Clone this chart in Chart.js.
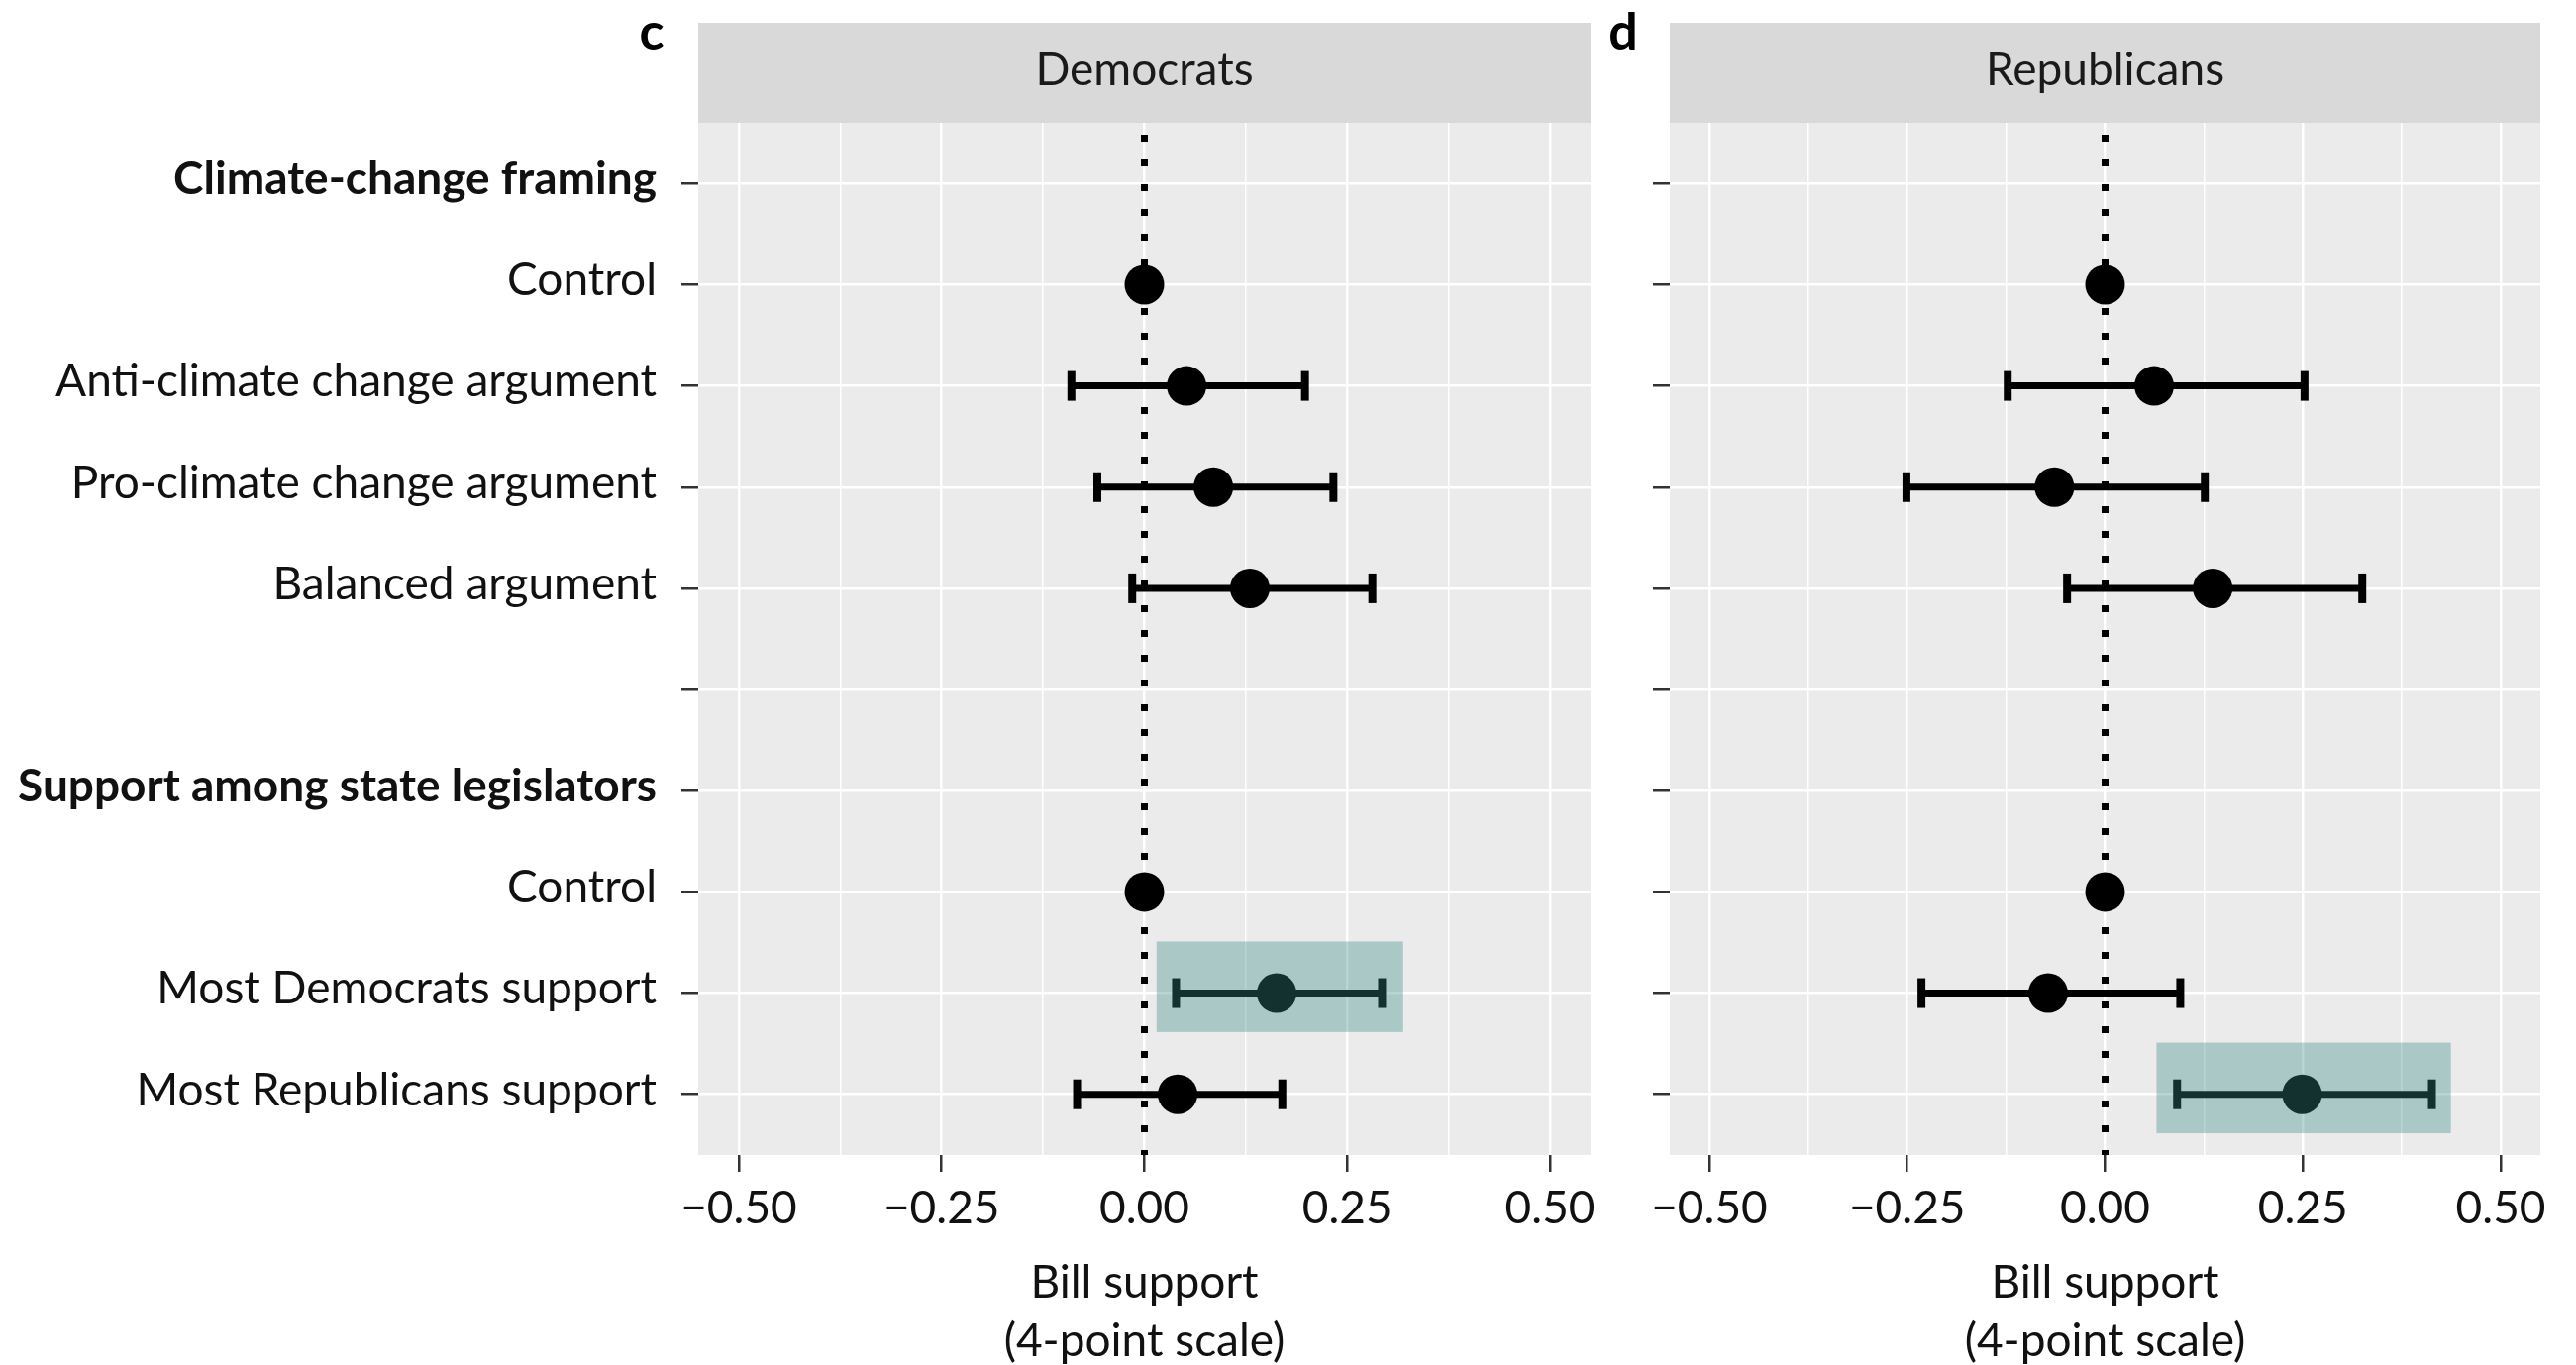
<!DOCTYPE html>
<html>
<head>
<meta charset="utf-8">
<script src="https://cdn.jsdelivr.net/npm/chart.js@4.4.1/dist/chart.umd.min.js"></script>
<style>
    html, body { margin: 0; padding: 0; background: #fff; overflow: hidden; }
    canvas { position: absolute; top: 0; }
    #demChart { left: 0; }
    #repChart { left: 1620px; }
</style>
</head>
<body>
<canvas id="demChart" width="1620" height="1378"></canvas>
<canvas id="repChart" width="981" height="1378"></canvas>
<script>
// rows, top to bottom
const rows = [
    'Climate-change framing',
    'Control',
    'Anti-climate change argument',
    'Pro-climate change argument',
    'Balanced argument',
    '',
    'Support among state legislators',
    'Control',
    'Most Democrats support',
    'Most Republicans support'
];
const headerRows = [0, 6];

const demEst  = [null, 0, 0.052, 0.085, 0.130, null, null, 0, 0.163, 0.041];
const demLow  = [null, null, -0.090, -0.058, -0.015, null, null, null, 0.039, -0.083];
const demHigh = [null, null, 0.198, 0.233, 0.281, null, null, null, 0.293, 0.170];

const repEst  = [null, 0, 0.062, -0.064, 0.136, null, null, 0, -0.072, 0.249];
const repLow  = [null, null, -0.123, -0.251, -0.048, null, null, null, -0.232, 0.091];
const repHigh = [null, null, 0.252, 0.126, 0.325, null, null, null, 0.095, 0.413];

// highlighted row and its x range
const demBoxRow = 8;
const demBoxRange = [0.015, 0.319];
const repBoxRow = 9;
const repBoxRange = [0.065, 0.437];

const xTicks = [-0.5, -0.375, -0.25, -0.125, 0, 0.125, 0.25, 0.375, 0.5];

const FONT = 'Lato';
const FS = 46;
const isMajor = v => Math.abs(v * 4 - Math.round(v * 4)) < 1e-6;
const fmt = v => (v < 0 ? '\u2212' : '') + Math.abs(v).toFixed(2);
const tickVal = c => (c && c.tick) ? c.tick.value : 0;

const panelPlugin = {
    id: 'panel',
    beforeDraw(chart, args, opts) {
        const {ctx, chartArea: a} = chart;
        ctx.save();
        ctx.fillStyle = '#ebebeb';
        ctx.fillRect(a.left, a.top, a.right - a.left, a.bottom - a.top);
        ctx.fillStyle = '#d9d9d9';
        ctx.fillRect(a.left, 23, a.right - a.left, a.top - 23);
        ctx.fillStyle = '#1a1a1a';
        ctx.font = `${FS}px ${FONT}`;
        ctx.textAlign = 'center';
        ctx.textBaseline = 'middle';
        ctx.fillText(opts.strip, (a.left + a.right) / 2, 71);
        ctx.fillStyle = '#000';
        ctx.font = `bold 52px ${FONT}`;
        ctx.textBaseline = 'alphabetic';
        ctx.fillText(opts.letter, opts.letterX, 50);
        ctx.restore();
    },
    beforeDatasetsDraw(chart) {
        const {ctx, chartArea: a} = chart;
        const x = chart.scales.x.getPixelForValue(0);
        ctx.save();
        ctx.strokeStyle = '#000';
        ctx.lineWidth = 7;
        ctx.setLineDash([7, 18]);
        ctx.lineDashOffset = -12;
        ctx.beginPath();
        ctx.moveTo(x, a.top);
        ctx.lineTo(x, a.bottom);
        ctx.stroke();
        ctx.restore();
    },
    afterDatasetsDraw(chart, args, opts) {
        const {ctx} = chart;
        const xs = chart.scales.x, ys = chart.scales.y;
        const x0 = xs.getPixelForValue(opts.boxRange[0]);
        const x1 = xs.getPixelForValue(opts.boxRange[1]);
        const y0 = ys.getPixelForValue(opts.boxRow - 0.51);
        const y1 = ys.getPixelForValue(opts.boxRow + 0.385);
        ctx.save();
        ctx.fillStyle = 'rgba(53, 136, 132, 0.355)';
        ctx.fillRect(x0, y0, x1 - x0, y1 - y0);
        ctx.restore();
    }
};

function buildChart(id, est, low, high, cfg) {
    const points = [];
    const bars = [];
    rows.forEach((r, i) => {
        if (est[i] !== null) points.push({x: est[i], y: i});
        if (low[i] !== null) {
            bars.push({
                data: [{x: low[i], y: i}, {x: high[i], y: i}],
                showLine: true,
                borderColor: '#000',
                borderWidth: 7,
                pointStyle: 'line',
                pointRotation: 90,
                pointRadius: 15,
                pointHoverRadius: 15,
                pointBorderWidth: 8,
                pointBorderColor: '#000',
                order: 1
            });
        }
    });

    new Chart(document.getElementById(id), {
        type: 'scatter',
        data: {
            datasets: [{
                data: points,
                pointRadius: 20,
                pointHoverRadius: 20,
                backgroundColor: '#000',
                borderWidth: 0,
                order: 0
            }, ...bars]
        },
        options: {
            responsive: false,
            animation: false,
            events: [],
            layout: {
                autoPadding: false,
                padding: { top: 124, right: cfg.padRight, left: 0, bottom: 0 }
            },
            plugins: {
                legend: { display: false },
                tooltip: { enabled: false },
                panel: cfg.panel
            },
            scales: {
                x: {
                    type: 'linear',
                    min: -0.55,
                    max: 0.55,
                    afterBuildTicks: s => { s.ticks = xTicks.map(v => ({value: v})); },
                    afterFit: s => { s.height = 212; s.paddingLeft = 0; s.paddingRight = 0; },
                    border: { display: false },
                    grid: {
                        color: '#ffffff',
                        lineWidth: c => isMajor(tickVal(c)) ? 2.5 : 1.5,
                        tickColor: c => isMajor(tickVal(c)) ? '#333333' : 'rgba(0,0,0,0)',
                        tickWidth: 2.5,
                        tickLength: 17
                    },
                    ticks: {
                        autoSkip: false,
                        maxRotation: 0,
                        padding: 10,
                        color: '#111',
                        font: { family: FONT, size: FS },
                        callback: v => isMajor(v) ? fmt(v) : ''
                    },
                    title: {
                        display: true,
                        text: ['Bill support', '(4-point scale)'],
                        color: '#111',
                        font: { family: FONT, size: FS, lineHeight: 1.27 },
                        padding: { top: 0, bottom: -5 }
                    }
                },
                y: {
                    type: 'linear',
                    reverse: true,
                    min: -0.6,
                    max: 9.6,
                    afterBuildTicks: s => { s.ticks = rows.map((r, i) => ({value: i})); },
                    afterFit: s => { s.width = cfg.yWidth; s.paddingTop = 0; s.paddingBottom = 0; },
                    border: { display: false },
                    grid: {
                        color: '#ffffff',
                        lineWidth: 2.5,
                        tickColor: '#333333',
                        tickWidth: 2.5,
                        tickLength: 17
                    },
                    ticks: {
                        display: cfg.showLabels,
                        padding: 25,
                        labelOffset: -4,
                        color: '#111',
                        font: c => ({
                            family: FONT,
                            size: FS,
                            weight: headerRows.includes(tickVal(c)) && c.tick ? 'bold' : 'normal'
                        }),
                        callback: v => rows[v]
                    }
                }
            }
        },
        plugins: [panelPlugin]
    });
}

buildChart('demChart', demEst, demLow, demHigh, {
    padRight: 14,
    yWidth: 705,
    showLabels: true,
    panel: { strip: 'Democrats', letter: 'c', letterX: 658, boxRow: demBoxRow, boxRange: demBoxRange }
});

buildChart('repChart', repEst, repLow, repHigh, {
    padRight: 36,
    yWidth: 66,
    showLabels: false,
    panel: { strip: 'Republicans', letter: 'd', letterX: 19, boxRow: repBoxRow, boxRange: repBoxRange }
});
</script>
</body>
</html>
